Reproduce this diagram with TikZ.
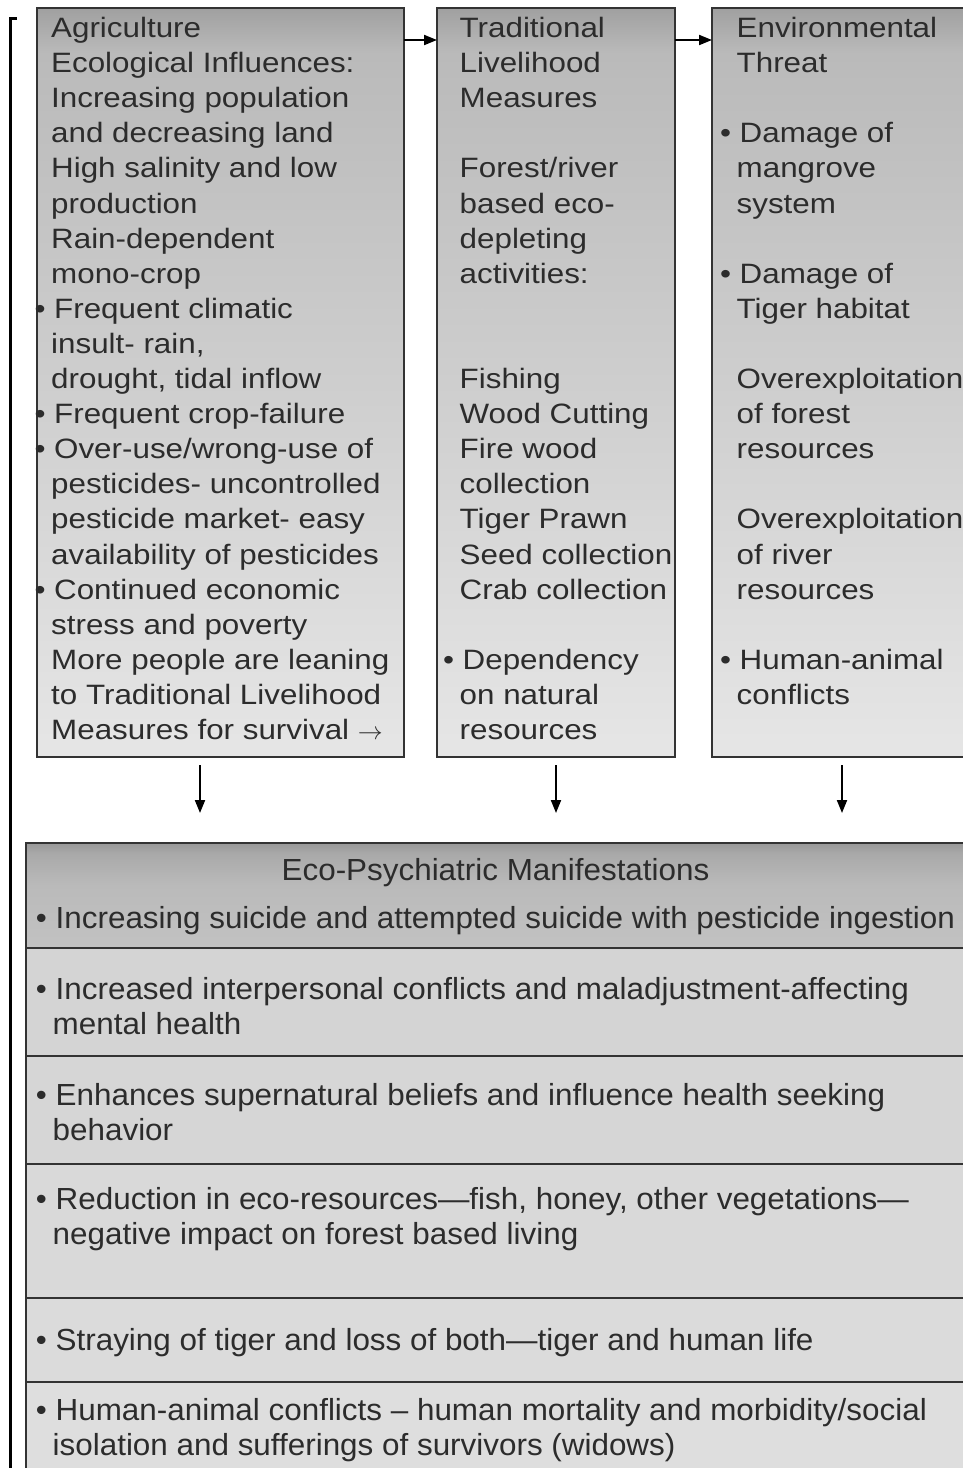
\documentclass[tikz,border=0pt]{standalone}
\usepackage{fontspec}
\setmainfont{Liberation Sans}
\newfontfamily\topfont[FakeStretch=1.12]{Liberation Sans}
\newfontfamily\botfont[FakeStretch=1.03]{Liberation Sans}
\usetikzlibrary{arrows.meta,positioning}

\definecolor{edge}{HTML}{333333}
\definecolor{ink}{HTML}{2C2C2C}
\definecolor{panelbot}{HTML}{E6E6E6}
\definecolor{panelmid}{HTML}{CECECE}
\definecolor{panelhi}{HTML}{BABABA}
\definecolor{paneltop}{HTML}{A0A0A0}
\definecolor{hdrbot}{HTML}{C2C2C2}
\definecolor{hdrmid}{HTML}{BABABA}
\definecolor{hdrhi}{HTML}{A9A9A9}
\definecolor{hdrtop}{HTML}{989898}

\pgfdeclareverticalshading{boxshade}{100bp}{color(0bp)=(panelbot); color(25bp)=(panelbot); color(50bp)=(panelmid); color(72bp)=(panelhi); color(75bp)=(paneltop); color(100bp)=(paneltop)}
\pgfdeclareverticalshading{hdrshade}{100bp}{color(0bp)=(hdrbot); color(25bp)=(hdrbot); color(55bp)=(hdrmid); color(70bp)=(hdrhi); color(75bp)=(hdrtop); color(100bp)=(hdrtop)}

\newcommand{\bulit}{\hspace*{3pt}\llap{•\ }}

\begin{document}
\begin{tikzpicture}[
        x=1pt, y=-1pt,
        panel/.style={
            draw=edge,
            line width=1.8pt,
            shading=boxshade,
            outer sep=0pt,
            inner sep=0pt,
            minimum height=749pt,
            anchor=north west
        },
        paneltxt/.style={
            anchor=north west,
            inner sep=0pt,
            align=left,
            text=ink,
            font=\topfont\fontsize{28}{35.1}\selectfont
        },
        row/.style={
            draw=edge,
            line width=1.8pt,
            outer sep=0pt,
            inner sep=0pt,
            minimum width=939pt,
            anchor=north west
        },
        rowtxt/.style={
            anchor=north west,
            inner sep=0pt,
            align=left,
            text=ink,
            font=\botfont\fontsize{30.5}{35}\selectfont
        },
        flow/.style={
            -{Triangle[length=13pt,width=10pt]},
            line width=2pt
        }
    ]
        \useasboundingbox (0,0) rectangle (962,1468);

        % Bracket
        \draw[line width=3pt] (17,18) -- (10,18) -- (10,1475);

        % Agriculture
        \node[panel, minimum width=367pt] (agri) at (37,8) {};
        \node[paneltxt] (agritxt) at ([xshift=14pt,yshift=-4.8pt]agri.north west) {
            \strut Agriculture\\
            Ecological Influences:\\
            Increasing population\\
            and decreasing land\\
            High salinity and low\\
            production\\
            Rain-dependent\\
            mono-crop\\
            \bulit Frequent climatic\\
            insult- rain,\\
            drought, tidal inflow\\
            \bulit Frequent crop-failure\\
            \bulit Over-use/wrong-use of\\
            pesticides- uncontrolled\\
            pesticide market- easy\\
            availability of pesticides\\
            \bulit Continued economic\\
            stress and poverty\\
            More people are leaning\\
            to Traditional Livelihood\\
            Measures for survival $\rightarrow$
        };

        % Traditional livelihood
        \node[panel, minimum width=238pt] (trad) at (437,8) {};
        \node[paneltxt] (tradtxt) at ([xshift=22.5pt,yshift=-4.8pt]trad.north west) {
            \strut Traditional\\
            Livelihood\\
            Measures\\
            \\
            Forest/river\\
            based eco-\\
            depleting\\
            activities:\\
            \\
            \\
            Fishing\\
            Wood Cutting\\
            Fire wood\\
            collection\\
            Tiger Prawn\\
            Seed collection\\
            Crab collection\\
            \\
            \bulit Dependency\\
            on natural\\
            resources
        };

        % Environmental threat
        \node[panel, minimum width=253pt] (env) at (712,8) {};
        \node[paneltxt] (envtxt) at ([xshift=24.5pt,yshift=-4.8pt]env.north west) {
            \strut Environmental\\
            Threat\\
            \\
            \bulit Damage of\\
            mangrove\\
            system\\
            \\
            \bulit Damage of\\
            Tiger habitat\\
            \\
            Overexploitation\\
            of forest\\
            resources\\
            \\
            Overexploitation\\
            of river\\
            resources\\
            \\
            \bulit Human-animal\\
            conflicts
        };

        \draw[flow] ([yshift=-32pt]agri.north east) -- ([yshift=-32pt]trad.north west);
        \draw[flow] ([yshift=-32pt]trad.north east) -- ([yshift=-32pt]env.north west);

        % Eco-psychiatric manifestations
        \node[row, shading=hdrshade, minimum height=105pt] (manif) at (26,843) {};
        \node[row, fill=black!17, minimum height=108pt, below=0pt of manif] (suicide) {};
        \node[row, fill=black!16, minimum height=108pt, below=0pt of suicide] (conflict) {};
        \node[row, fill=black!15, minimum height=134pt, below=0pt of conflict] (belief) {};
        \node[row, fill=black!14, minimum height=84pt, below=0pt of belief] (resource) {};
        \node[row, fill=black!13, minimum height=96pt, below=0pt of resource] (tiger) {};

        \node[rowtxt, anchor=north] (maniftxt) at ([yshift=-12.5pt]manif.north) {\strut Eco-Psychiatric Manifestations};
        \node[rowtxt] (suicidetxt) at ([xshift=26.5pt,yshift=-60.5pt]manif.north west) {
            \strut\bulit Increasing suicide and attempted suicide with pesticide ingestion
        };
        \node[rowtxt] (conflicttxt) at ([xshift=26.5pt,yshift=-26.5pt]suicide.north west) {
            \strut\bulit Increased interpersonal conflicts and maladjustment-affecting\\
            mental health
        };
        \node[rowtxt] (belieftxt) at ([xshift=26.5pt,yshift=-24.5pt]conflict.north west) {
            \strut\bulit Enhances supernatural beliefs and influence health seeking\\
            behavior
        };
        \node[rowtxt] (resourcetxt) at ([xshift=26.5pt,yshift=-20.5pt]belief.north west) {
            \strut\bulit Reduction in eco-resources—fish, honey, other vegetations—\\
            negative impact on forest based living
        };
        \node[rowtxt] (tigertxt) at ([xshift=26.5pt,yshift=-27.5pt]resource.north west) {
            \strut\bulit Straying of tiger and loss of both—tiger and human life
        };
        \node[rowtxt] (humantxt) at ([xshift=26.5pt,yshift=-13.5pt]tiger.north west) {
            \strut\bulit Human-animal conflicts – human mortality and morbidity/social\\
            isolation and sufferings of survivors (widows)
        };

        \draw[flow] ([xshift=-20.5pt,yshift=-8pt]agri.south) -- ([xshift=-20.5pt,yshift=-56pt]agri.south);
        \draw[flow] ([yshift=-8pt]trad.south) -- ([yshift=-56pt]trad.south);
        \draw[flow] ([xshift=3.5pt,yshift=-8pt]env.south) -- ([xshift=3.5pt,yshift=-56pt]env.south);
    \end{tikzpicture}
\end{document}
